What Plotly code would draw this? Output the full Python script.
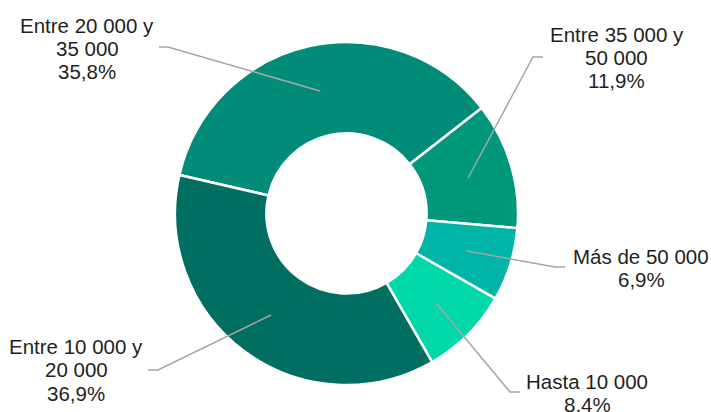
import plotly.graph_objects as go

# Distribution by income bracket (shares in %)
categories = ["Entre 20 000 y 35 000", "Entre 35 000 y 50 000", "Más de 50 000",
              "Hasta 10 000", "Entre 10 000 y 20 000"]
shares = [35.8, 11.9, 6.9, 8.4, 36.9]
colors = ["#008C78", "#00987A", "#00B5A8", "#00D8AA", "#006E60"]

# Label text split over lines, as drawn next to each slice
label_lines = [["Entre 20 000 y", "35 000"],
               ["Entre 35 000 y", "50 000"],
               ["Más de 50 000"],
               ["Hasta 10 000"],
               ["Entre 10 000 y", "20 000"]]

W, H = 711, 412

# Label anchor (center x, first baseline y) and leader-line points in pixels
label_pos = [(87, 31.7), (616.5, 40.7), (641, 263), (587, 388), (76, 353)]
leaders = [
    [(320, 91), (168, 47), (159, 47)],
    [(468, 178), (533, 57), (543, 57)],
    [(467, 251), (555, 267), (565, 267)],
    [(436, 303), (510, 392), (520, 392)],
    [(271, 315), (158, 370), (148, 370)],
]

cx, cy, r = 346.5, 213.5, 171.5

fig = go.Figure(go.Pie(
    labels=categories,
    values=shares,
    hole=0.467,
    sort=False,
    direction="clockwise",
    rotation=283,
    marker=dict(colors=colors, line=dict(color="white", width=2.5)),
    textinfo="none",
    hoverinfo="label+percent",
    domain=dict(x=[(cx - r) / W, (cx + r) / W],
                y=[(H - cy - r) / H, (H - cy + r) / H]),
    showlegend=False,
))

def px(x, y):
    return x / W, 1 - y / H

shapes = []
for pts in leaders:
    path = ""
    for i, (x, y) in enumerate(pts):
        X, Y = px(x, y)
        path += ("M" if i == 0 else "L") + f"{X},{Y} "
    shapes.append(dict(type="path", path=path.strip(), xref="paper", yref="paper",
                       line=dict(color="#A6A6A6", width=1.5)))

font_size = 20.5
line_gap = 23.3
annotations = []
for lines, val, (lx, ly) in zip(label_lines, shares, label_pos):
    texts = lines + [f"{val:.1f}".replace(".", ",") + "%"]
    for i, t in enumerate(texts):
        base = ly + i * line_gap
        X, Y = px(lx, base - 6.5)
        annotations.append(dict(text=t, x=X, y=Y, xref="paper", yref="paper",
                                xanchor="center", yanchor="middle", showarrow=False,
                                font=dict(family="Liberation Sans, Arial, sans-serif",
                                          size=font_size, color="#1F1F1F")))

fig.update_layout(
    width=W, height=H,
    margin=dict(l=0, r=0, t=0, b=0),
    paper_bgcolor="white",
    plot_bgcolor="white",
    shapes=shapes,
    annotations=annotations,
)

fig.write_html("out.html")
